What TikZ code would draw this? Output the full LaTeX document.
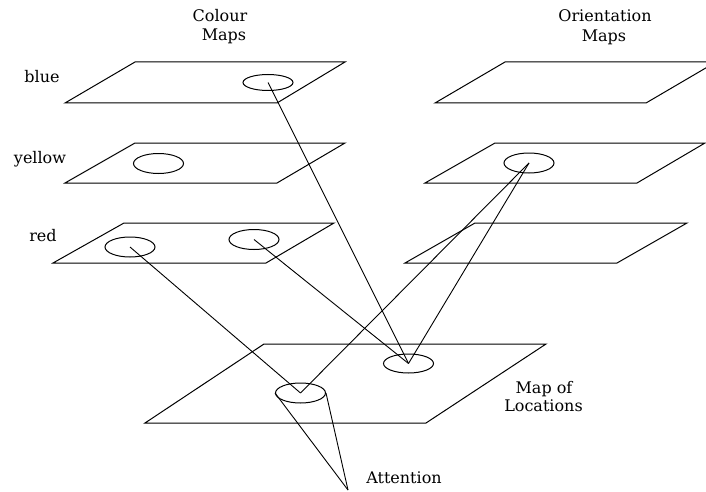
\documentclass[tikz,border=0pt]{standalone}
\usepackage{fontspec}
\setmainfont{DejaVu Serif}
\usetikzlibrary{shapes.geometric}
\begin{document}
\begin{tikzpicture}[x=1pt,y=-1pt,line width=1pt,
  mapplane/.style={draw,line join=miter},
  spot/.style={draw,ellipse,inner sep=0pt,minimum width=50pt,minimum height=#1},
  spot/.default=20pt,
  lbl/.style={anchor=base,inner sep=0pt,font=\fontsize{16}{19}\selectfont},
  link/.style={draw,line width=0.9pt}]
\clip (0,0) rectangle (706,492);
\fill[white] (0,0) rectangle (706,492);
% colour maps
\draw[mapplane] (65,103) -- (277,103) -- (345,62) -- (135,62) -- cycle;
\draw[mapplane] (65,183) -- (277,183) -- (345,143) -- (135,143) -- cycle;
\draw[mapplane] (53,263) -- (266,263) -- (334,223) -- (124,223) -- cycle;
% orientation maps
\draw[mapplane] (435,103) -- (646,103) -- (716,62) -- (505,62) -- cycle;
\draw[mapplane] (425,183) -- (637,183) -- (705,143) -- (495,143) -- cycle;
\draw[mapplane] (405,263) -- (617,263) -- (687,223) -- (475,223) -- cycle;
% map of locations
\draw[mapplane] (145,423) -- (426,423) -- (546,344) -- (264,344) -- cycle;
% spots
\node[spot=16pt] (eblue) at (268,82.5) {};
\node[spot] (eyel) at (158.5,163.5) {};
\node[spot] (ered1) at (130,247) {};
\node[spot] (ered2) at (254,239.5) {};
\node[spot] (eori) at (529,163) {};
\node[spot=19pt] (eloc) at (408.5,363.5) {};
\node[spot] (econe) at (300.5,393) {};
\coordinate (apex) at (348,490);
% connectors
\draw[link] (eblue.center) -- (eloc.center);
\draw[link] (ered2.center) -- (eloc.center);
\draw[link] (eori.center) -- (eloc.center);
\draw[link] (ered1.center) -- (econe.center);
\draw[link] (eori.center) -- (econe.center);
\draw[link] (apex) -- (econe.west);
\draw[link] (apex) -- (econe.east);
% labels
\node[lbl] (t1) at (220,21.7) {Colour};
\node[lbl] (t2) at (224,40.7) {Maps};
\node[lbl] (t3) at (605,21.7) {Orientation};
\node[lbl] (t4) at (604,41.7) {Maps};
\node[lbl] (tb) at (42,83) {blue};
\node[lbl] (ty) at (40,163) {yellow};
\node[lbl] (tr) at (43,241.7) {red};
\node[lbl] (tm1) at (544,393) {Map of};
\node[lbl] (tm2) at (543.5,411.7) {Locations};
\node[lbl] (ta) at (404,483) {Attention};
\end{tikzpicture}
\end{document}
